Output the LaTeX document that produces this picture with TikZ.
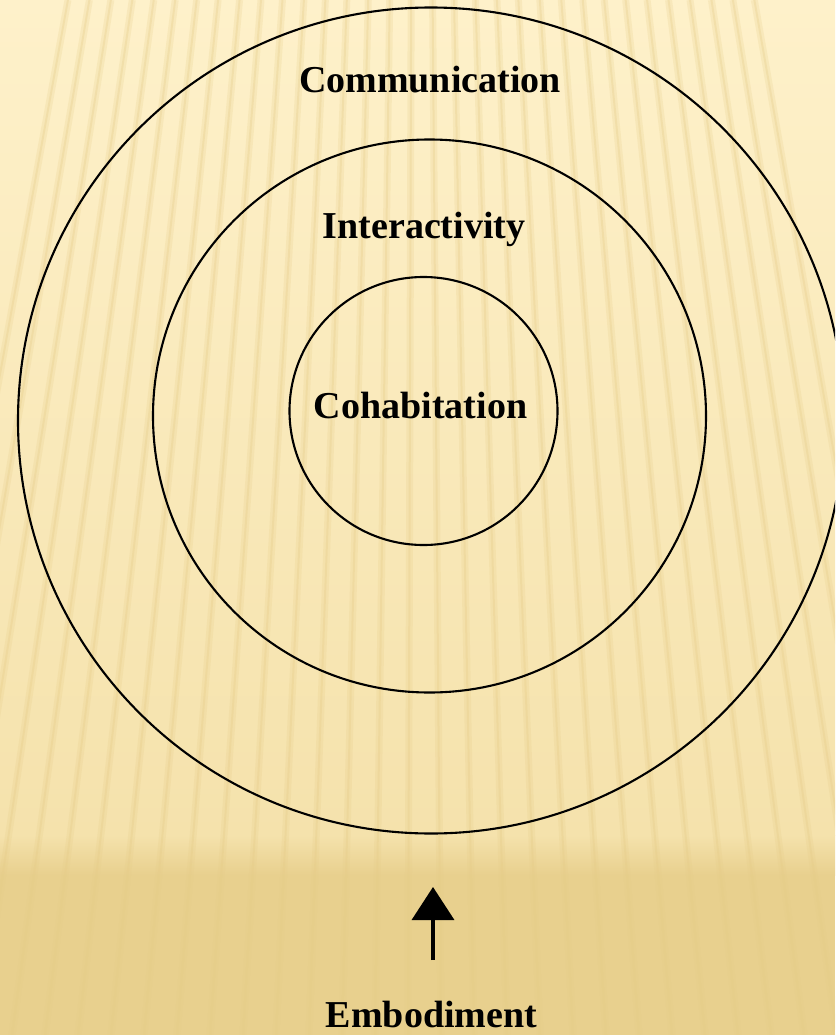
\documentclass[tikz,border=0pt]{standalone}
\usepackage{fontspec}
\setmainfont{Liberation Serif}
\usetikzlibrary{arrows.meta}
\definecolor{bgtop}{HTML}{FEF1CA}
\definecolor{bgmid}{HTML}{F5E2AC}
\definecolor{bglow}{HTML}{E8D08E}
\definecolor{stripe}{HTML}{E6CC88}
\tikzset{
  ring/.style={draw=black, circle, line width=2.1pt, inner sep=0pt},
  lbl/.style={font=\fontsize{38}{40}\selectfont\bfseries, anchor=base, inner sep=0pt, text=black},
}
\begin{document}
\begin{tikzpicture}[x=1pt,y=-1pt]
\useasboundingbox (0,0) rectangle (835,1035);
\begin{scope}
\clip (0,0) rectangle (835,1035);
% background
\shade[top color=bgtop, bottom color=bgmid] (0,0) rectangle (835,835);
\shade[top color=bgmid, bottom color=bglow] (0,835) rectangle (835,875);
\fill[bglow] (0,875) rectangle (835,1035);
% stripes
\foreach \xb in {-120,-87,...,960} {
  \draw[stripe, line width=7pt, opacity=0.22] (\xb,1035) -- ({\xb+0.35*(417-\xb)},0);
  \draw[stripe, line width=2pt, opacity=0.3] (\xb,1035) -- ({\xb+0.35*(417-\xb)},0);
}
% rings
\node[ring, minimum size=826pt] (outer) at (431,420.5) {};
\node[ring, minimum size=553pt] (middle) at (429.5,416) {};
\node[ring, minimum size=268pt] (inner) at (423.5,411) {};
\end{scope}
% labels
\node[lbl] (comm) at (430,93) {Communication};
\node[lbl] (inter) at (424,238) {Interactivity};
\node[lbl] (cohab) at (420.5,418) {Cohabitation};
\node[lbl] (embod) at (431.5,1027) {Embodiment};
% arrow
\coordinate (afoot) at (433,960);
\coordinate (atip) at (433,887);
\draw[line width=3.5pt, draw=black, -{Triangle[width=42pt,length=33pt]}] (afoot) -- (atip);
\end{tikzpicture}
\end{document}
